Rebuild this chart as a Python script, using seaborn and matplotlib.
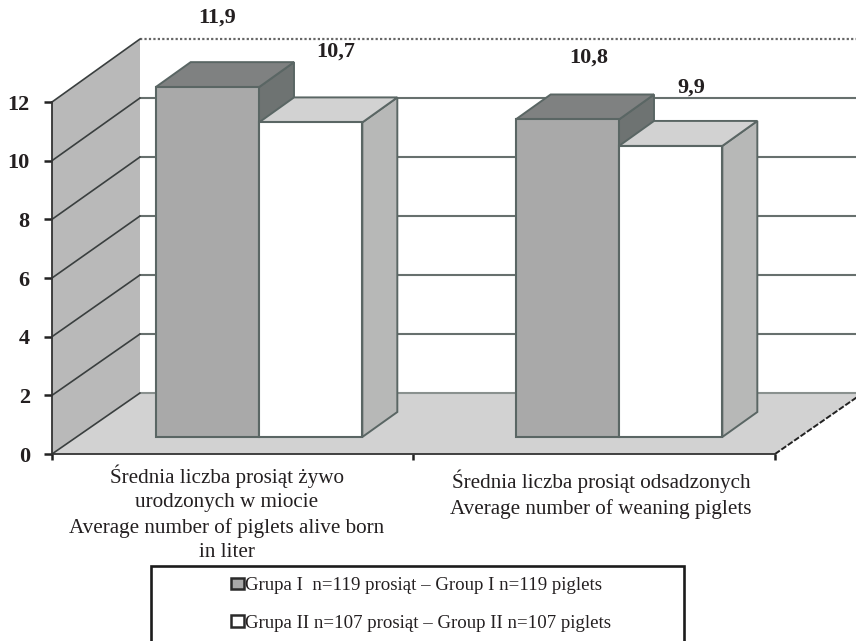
import matplotlib
matplotlib.use("Agg")
import matplotlib.pyplot as plt
from matplotlib.patches import Polygon, Rectangle
import pandas as pd
import seaborn as sns

# ---- data ----
categories = ["Średnia liczba prosiąt żywo\nurodzonych w miocie\nAverage number of piglets alive born\nin liter",
              "Średnia liczba prosiąt odsadzonych\nAverage number of weaning piglets"]
groups = ["Grupa I  n=119 prosiąt – Group I n=119 piglets",
          "Grupa II n=107 prosiąt – Group II n=107 piglets"]
group1_values = [11.9, 10.8]
group2_values = [10.7, 9.9]
y_ticks = [0, 2, 4, 6, 8, 10, 12]

W, H = 856, 641
sns.set_theme(style="white")
plt.rcParams["font.family"] = ["Liberation Serif", "DejaVu Serif"]
TEXT = "#231f20"
EDGE = "#5a6664"

df = pd.DataFrame({
    "cat": categories * 2,
    "group": [groups[0]] * 2 + [groups[1]] * 2,
    "val": group1_values + group2_values,
})

fig = plt.figure(figsize=(W / 100, H / 100), dpi=100, facecolor="white")

# pixel-space backdrop: walls, floor, grid, legend frame
bg = fig.add_axes([0, 0, 1, 1], zorder=0)
bg.set_xlim(0, W)
bg.set_ylim(H, 0)
bg.axis("off")

# front axis
L, R, Y0, Y12 = 52, 775, 454, 102
DX = 88
BACK0, BACK12 = 393, 39
axf = fig.add_axes([L / W, 1 - Y0 / H, (R - L) / W, (Y0 - Y12) / H], zorder=1)
axf.patch.set_alpha(0)
axf.set_ylim(0, 12)
axf.set_xlim(0, 2)
axf.set_yticks(y_ticks)
axf.set_yticklabels([str(t) for t in y_ticks], fontsize=16, fontweight="bold", color=TEXT)
axf.set_xticks([0, 1, 2])
axf.set_xticklabels([])
axf.tick_params(axis="y", length=5.5, width=1.8, color="#222222", pad=10.5, left=True)
axf.tick_params(axis="x", length=4.5, width=1.8, color="#222222", bottom=True)
for s in ("top", "right"):
    axf.spines[s].set_visible(False)
for s in ("left", "bottom"):
    axf.spines[s].set_linestyle((0, (1, 1)))
    axf.spines[s].set_color("#333333")
    axf.spines[s].set_linewidth(1.3)


def tick_y(v):
    return Y0 + (Y12 - Y0) * v / 12


def back_y(v):
    return BACK0 + (BACK12 - BACK0) * v / 12


bg.add_patch(Polygon([(L, Y0), (R, Y0), (R + DX, BACK0), (L + DX, BACK0)],
                     closed=True, fc="#d2d2d2", ec="none"))
bg.add_patch(Polygon([(L, Y0), (L, Y12), (L + DX, BACK12), (L + DX, BACK0)],
                     closed=True, fc="#b9b9b9", ec="none"))
for t in y_ticks:
    bg.plot([L, L + DX], [tick_y(t), back_y(t)], color="#3a3f3f", lw=1.2, zorder=3)
    if 0 < t < 12:
        bg.plot([L + DX, W], [back_y(t), back_y(t)], color="#67706e", lw=1.5, zorder=2)
bg.plot([L + DX, W], [BACK0, BACK0], color="#8a918f", lw=1.5, zorder=2)
bg.plot([L + DX, W], [BACK12, BACK12], color="#666666", lw=1.6, ls=(0, (1, 1)), zorder=2)
bg.plot([R, R + DX], [Y0, BACK0], color="#222222", lw=1.4, ls=(0, (3, 1)), zorder=3)
bg.add_patch(Rectangle((151, 566), 533, 90, fc="white", ec="#1c1c1c", lw=1.9, zorder=2))

# bars: full-figure axes with a data scale
PX_X, PX_Y = 360.0, 29.4
ax = fig.add_axes([0, 0, 1, 1], zorder=2)
sns.barplot(data=df, x="cat", y="val", hue="group", hue_order=groups,
            palette=["#a9a9a9", "#ffffff"], saturation=1, width=0.574, gap=0,
            edgecolor=EDGE, linewidth=1.5, ax=ax, zorder=5)
ax.set_xlim(-259 / PX_X, (W - 259) / PX_X)
ax.set_ylim((437 - H) / PX_Y, 437 / PX_Y)
ax.patch.set_alpha(0)
ax.set_xlabel("")
ax.set_ylabel("")
ax.set_xticks([])
ax.set_yticks([])
for s in ax.spines.values():
    s.set_visible(False)

d_x, d_y = 35 / PX_X, 25 / PX_Y
faces = [("#7f8181", "#6e7372"), ("#d2d2d2", "#b7b8b7")]
offsets_px = [(10, 70), (21, 62), (25, 71), (21, 58)]
bars = [(c_i, b) for c_i, cont in enumerate(ax.containers) for b in cont]
for idx, (g, b) in enumerate(bars):
    x0, x1, h = b.get_x(), b.get_x() + b.get_width(), b.get_height()
    top_c, side_c = faces[g]
    z = 3 if g == 0 else 4
    ax.add_patch(Polygon([(x1, 0), (x1 + d_x, d_y), (x1 + d_x, h + d_y), (x1, h)],
                         closed=True, fc=side_c, ec=EDGE, lw=1.4, zorder=z))
    ax.add_patch(Polygon([(x0, h), (x0 + d_x, h + d_y), (x1 + d_x, h + d_y), (x1, h)],
                         closed=True, fc=top_c, ec=EDGE, lw=1.4, zorder=z))
    ox, oy = offsets_px[idx]
    ax.annotate(f"{h:.1f}".replace(".", ","), xy=(x0 + b.get_width() / 2, h),
                xytext=(ox * 0.72, oy * 0.72), textcoords="offset points",
                ha="center", va="center", fontsize=16, fontweight="bold",
                color=TEXT, zorder=8)

# category labels
label_pos = [(227, 513), (601, 494.5)]
for cat, (px, py) in zip(categories, label_pos):
    fig.text(px / W, 1 - py / H, cat, ha="center", va="center", fontsize=15.2,
             color=TEXT, linespacing=1.38, zorder=10)

# legend
sns.move_legend(ax, "center", bbox_to_anchor=(421 / W, 1 - 604.5 / H),
                bbox_transform=fig.transFigure, frameon=False, title=None,
                fontsize=13.6, handlelength=0.7, handleheight=0.55,
                handletextpad=0.05, labelspacing=1.08, labelcolor=TEXT)
for p in ax.get_legend().get_patches():
    p.set_edgecolor("#2a2a2a")
    p.set_linewidth(1.8)

fig.savefig("out.png", dpi=100, facecolor="white")
